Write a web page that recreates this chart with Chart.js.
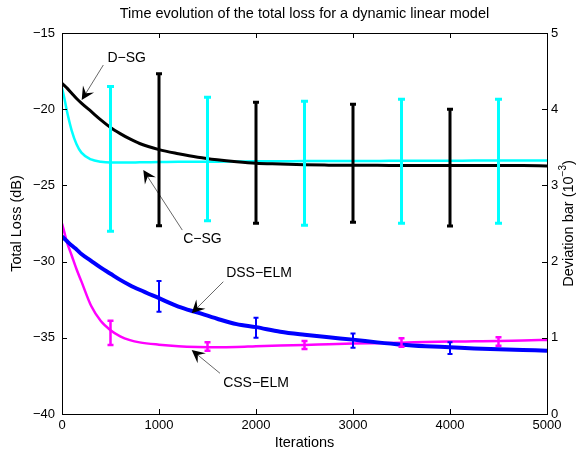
<!DOCTYPE html>
<html>
<head>
<meta charset="utf-8">
<script src="https://cdn.jsdelivr.net/npm/chart.js@4/dist/chart.umd.min.js"></script>
<style>
  html, body { margin: 0; padding: 0; background: #fff; }
  #wrap { width: 584px; height: 453px; }
</style>
</head>
<body>
<div id="wrap"><canvas id="chart" width="584" height="453"></canvas></div>
<script>
// iterations where the curves are sampled
const iterations = [0, 25, 50, 100, 150, 200, 300, 400, 500, 600, 700, 800, 1000, 1200, 1400,
  1600, 1800, 2000, 2250, 2500, 2750, 3000, 3250, 3500, 3750, 4000, 4250, 4500, 4750, 5000];

// total loss (dB)
const dsgLoss = [-18.3, -18.45, -18.6, -18.95, -19.3, -19.6, -20.15, -20.7, -21.2, -21.6, -21.95, -22.25,
  -22.65, -22.92, -23.15, -23.32, -23.45, -23.55, -23.6, -23.65, -23.67, -23.68, -23.68, -23.7, -23.7,
  -23.7, -23.7, -23.7, -23.7, -23.72];
const csgLoss = [-18.6, -19.3, -20.1, -21.4, -22.3, -22.85, -23.3, -23.45, -23.5, -23.5, -23.5, -23.48,
  -23.47, -23.45, -23.45, -23.44, -23.43, -23.42, -23.42, -23.4, -23.4, -23.4, -23.4, -23.38, -23.38,
  -23.38, -23.37, -23.37, -23.36, -23.36];
const dssLoss = [-28.35, -28.5, -28.65, -28.95, -29.2, -29.5, -29.95, -30.4, -30.8, -31.2, -31.55, -31.85,
  -32.4, -32.95, -33.35, -33.75, -34.1, -34.3, -34.6, -34.8, -34.97, -35.12, -35.3, -35.45, -35.55,
  -35.62, -35.7, -35.75, -35.8, -35.85];
const cssLoss = [-27.5, -28.1, -28.7, -29.6, -30.5, -31.3, -32.9, -33.9, -34.5, -34.9, -35.15, -35.3,
  -35.45, -35.55, -35.6, -35.62, -35.6, -35.55, -35.5, -35.47, -35.42, -35.38, -35.35, -35.32, -35.28,
  -35.25, -35.23, -35.21, -35.17, -35.14];

// deviation bars (dB, top and bottom)
const oddBarIters = [500, 1500, 2500, 3500, 4500];
const evenBarIters = [1000, 2000, 3000, 4000];
const csgBarHigh = [-18.51, -19.22, -19.48, -19.35, -19.35];
const csgBarLow = [-28.01, -27.32, -27.62, -27.49, -27.49];
const dsgBarHigh = [-17.68, -19.55, -19.68, -20.01];
const dsgBarLow = [-27.64, -27.49, -27.42, -27.66];
const cssBarHigh = [-33.88, -35.3, -35.21, -35.03, -34.97];
const cssBarLow = [-35.47, -35.85, -35.73, -35.58, -35.52];
const dssBarHigh = [-31.27, -33.68, -34.71, -35.3];
const dssBarLow = [-33.29, -35.0, -35.65, -36.07];

// tick labels
const xTicks = [0, 1000, 2000, 3000, 4000, 5000];
const yTicks = [-40, -35, -30, -25, -20, -15];
const y2Ticks = [0, 1, 2, 3, 4, 5];

// text arrows: label, label position, arrow tail, arrow tip (data coords)
const arrowLabels = ['D\u2212SG', 'C\u2212SG', 'DSS\u2212ELM', 'CSS\u2212ELM'];
const labelAt = [[667, -16.66], [1448, -28.52], [2031, -30.75], [2000, -37.97]];
const arrowFrom = [[426, -17.1], [1240, -27.93], [1663, -31.32], [1629, -37.33]];
const arrowTo = [[203, -19.4], [838, -23.99], [1337, -33.39], [1337, -35.8]];

const FONT = '"Liberation Sans", Arial, Helvetica, sans-serif';
const pts = (ys) => ys.map((y, i) => ({ x: iterations[i], y: y }));
const minus = (v) => String(v).replace('-', '\u2212');

const bars = [
  { at: evenBarIters, high: dsgBarHigh, low: dsgBarLow, color: '#000000', width: 3, cap: 3 },
  { at: oddBarIters, high: csgBarHigh, low: csgBarLow, color: '#00ffff', width: 3, cap: 3.5 },
  { at: evenBarIters, high: dssBarHigh, low: dssBarLow, color: '#0000ff', width: 2, cap: 2.5 },
  { at: oddBarIters, high: cssBarHigh, low: cssBarLow, color: '#ff00ff', width: 2.5, cap: 3 },
];

const overlay = {
  id: 'overlay',
  afterDatasetsDraw(chart) {
    const { ctx, scales: { x, y } } = chart;
    bars.forEach(b => {
      ctx.save();
      ctx.strokeStyle = b.color;
      ctx.lineWidth = b.width;
      ctx.lineCap = 'butt';
      b.at.forEach((it, i) => {
        const px = x.getPixelForValue(it);
        const top = y.getPixelForValue(b.high[i]);
        const bot = y.getPixelForValue(b.low[i]);
        ctx.beginPath();
        ctx.moveTo(px, top); ctx.lineTo(px, bot);
        ctx.moveTo(px - b.cap, top); ctx.lineTo(px + b.cap, top);
        ctx.moveTo(px - b.cap, bot); ctx.lineTo(px + b.cap, bot);
        ctx.stroke();
      });
      ctx.restore();
    });
  },
  afterDraw(chart) {
    const { ctx, chartArea: a, scales: { x, y, y1 } } = chart;
    ctx.save();
    // box
    ctx.strokeStyle = '#000';
    ctx.lineWidth = 1;
    ctx.strokeRect(Math.round(a.left) + 0.5, Math.round(a.top) + 0.5,
      Math.round(a.right - a.left), Math.round(a.bottom - a.top));
    // inward ticks
    ctx.beginPath();
    xTicks.slice(1, -1).forEach(v => {
      const px = Math.round(x.getPixelForValue(v)) + 0.5;
      ctx.moveTo(px, a.bottom); ctx.lineTo(px, a.bottom - 5);
      ctx.moveTo(px, a.top); ctx.lineTo(px, a.top + 5);
    });
    yTicks.slice(1, -1).forEach(v => {
      const py = Math.round(y.getPixelForValue(v)) + 0.5;
      ctx.moveTo(a.left, py); ctx.lineTo(a.left + 5, py);
    });
    y2Ticks.slice(1, -1).forEach(v => {
      const py = Math.round(y1.getPixelForValue(v)) + 0.5;
      ctx.moveTo(a.right, py); ctx.lineTo(a.right - 5, py);
    });
    ctx.stroke();

    ctx.fillStyle = '#000';
    // title
    ctx.font = '14.5px ' + FONT;
    ctx.textAlign = 'center';
    ctx.textBaseline = 'middle';
    ctx.fillText('Time evolution of the total loss for a dynamic linear model', (a.left + a.right) / 2, 14);
    // x label
    ctx.fillText('Iterations', (a.left + a.right) / 2, 443);
    // left label
    ctx.save();
    ctx.translate(17, (a.top + a.bottom) / 2);
    ctx.rotate(-Math.PI / 2);
    ctx.fillText('Total Loss (dB)', 0, 0);
    ctx.restore();
    // right label with superscript
    ctx.save();
    ctx.translate(569, (a.top + a.bottom) / 2);
    ctx.rotate(-Math.PI / 2);
    const main = 'Deviation bar (10';
    ctx.font = '14.5px ' + FONT;
    const w1 = ctx.measureText(main).width;
    ctx.font = '10px ' + FONT;
    const w2 = ctx.measureText('\u22123').width;
    ctx.font = '14.5px ' + FONT;
    const w3 = ctx.measureText(')').width;
    let sx = -(w1 + w2 + w3) / 2;
    ctx.textAlign = 'left';
    ctx.fillText(main, sx, 0);
    ctx.font = '10px ' + FONT;
    ctx.fillText('\u22123', sx + w1, -6);
    ctx.font = '14.5px ' + FONT;
    ctx.fillText(')', sx + w1 + w2, 0);
    ctx.restore();

    // arrows + labels
    ctx.font = '14px ' + FONT;
    ctx.textAlign = 'center';
    arrowLabels.forEach((t, i) => {
      ctx.fillText(t, x.getPixelForValue(labelAt[i][0]), y.getPixelForValue(labelAt[i][1]));
      const x0 = x.getPixelForValue(arrowFrom[i][0]), y0 = y.getPixelForValue(arrowFrom[i][1]);
      const x1 = x.getPixelForValue(arrowTo[i][0]), y1p = y.getPixelForValue(arrowTo[i][1]);
      const ang = Math.atan2(y1p - y0, x1 - x0);
      const len = 13, half = 6.5, notch = 8;
      const ux = Math.cos(ang), uy = Math.sin(ang);
      ctx.strokeStyle = '#000';
      ctx.lineWidth = 0.6;
      ctx.beginPath();
      ctx.moveTo(x0, y0);
      ctx.lineTo(x1 - ux * notch, y1p - uy * notch);
      ctx.stroke();
      ctx.beginPath();
      ctx.moveTo(x1, y1p);
      ctx.lineTo(x1 - ux * len - uy * half, y1p - uy * len + ux * half);
      ctx.lineTo(x1 - ux * notch, y1p - uy * notch);
      ctx.lineTo(x1 - ux * len + uy * half, y1p - uy * len - ux * half);
      ctx.closePath();
      ctx.fill();
    });
    ctx.restore();
  }
};

const lineSet = (data, color, w) => ({
  data: pts(data),
  borderColor: color,
  backgroundColor: color,
  borderWidth: w,
  pointRadius: 0,
  fill: false,
  cubicInterpolationMode: 'monotone',
  yAxisID: 'y'
});

new Chart(document.getElementById('chart'), {
  type: 'line',
  data: {
    datasets: [
      lineSet(dsgLoss, '#000000', 3),
      lineSet(csgLoss, '#00ffff', 2.5),
      lineSet(dssLoss, '#0000ff', 4),
      lineSet(cssLoss, '#ff00ff', 2.5)
    ]
  },
  options: {
    responsive: false,
    animation: false,
    layout: { padding: { top: 33, left: 0, right: 0, bottom: 0 } },
    plugins: { legend: { display: false }, tooltip: { enabled: false }, title: { display: false } },
    scales: {
      x: {
        type: 'linear', min: 0, max: 5000,
        afterBuildTicks: s => { s.ticks = xTicks.map(v => ({ value: v })); },
        ticks: { color: '#000', font: { family: FONT, size: 13 }, padding: 4, maxRotation: 0, callback: v => String(v) },
        grid: { display: false, drawTicks: false },
        border: { display: false },
        afterFit: s => { s.height = 39; }
      },
      y: {
        position: 'left', min: -40, max: -15,
        afterBuildTicks: s => { s.ticks = yTicks.map(v => ({ value: v })); },
        ticks: { color: '#000', font: { family: FONT, size: 13 }, padding: 7, callback: v => minus(v) },
        grid: { display: false, drawTicks: false },
        border: { display: false },
        afterFit: s => { s.width = 62; }
      },
      y1: {
        position: 'right', min: 0, max: 5,
        afterBuildTicks: s => { s.ticks = y2Ticks.map(v => ({ value: v })); },
        ticks: { color: '#000', font: { family: FONT, size: 13 }, padding: 4, callback: v => String(v) },
        grid: { display: false, drawTicks: false },
        border: { display: false },
        afterFit: s => { s.width = 37; }
      }
    }
  },
  plugins: [overlay]
});
</script>
</body>
</html>
